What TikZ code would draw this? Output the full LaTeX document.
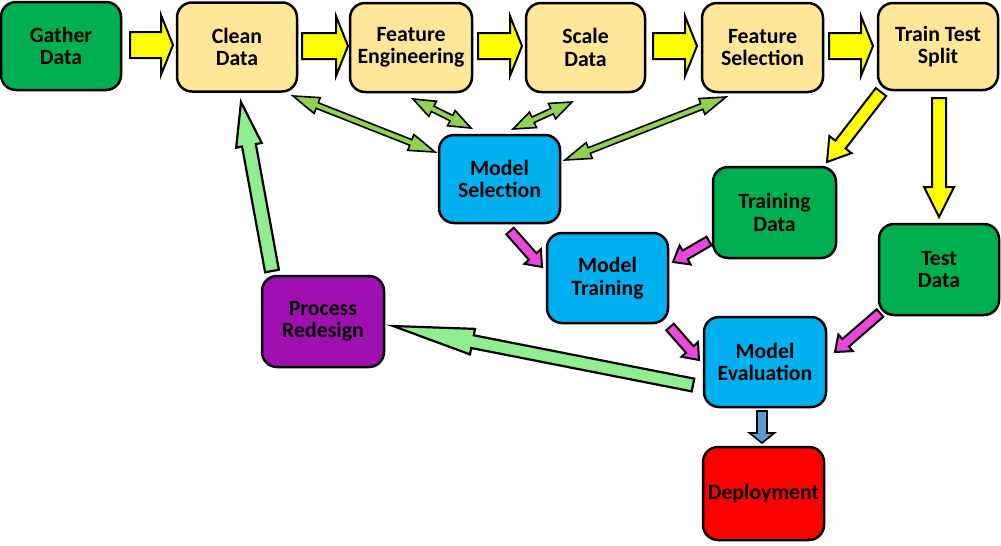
\documentclass[tikz,border=0pt]{standalone}
\usepackage{fontspec}
\setmainfont{Carlito}
\usetikzlibrary{calc}
\definecolor{cgreen}{RGB}{0,176,80}
\definecolor{corange}{RGB}{255,230,153}
\definecolor{cblue}{RGB}{0,176,240}
\definecolor{cpurple}{RGB}{160,15,175}
\definecolor{cred}{RGB}{255,0,0}
\definecolor{cyellow}{RGB}{255,255,0}
\definecolor{colive}{RGB}{146,208,80}
\definecolor{cpink}{RGB}{234,72,218}
\definecolor{clight}{RGB}{144,238,144}
\definecolor{csteel}{RGB}{91,155,213}
\newcommand\bacalc[2]{%
  \path let \p1=(#1), \p2=(#2) in \pgfextra{%
    \pgfmathsetmacro\baang{atan2(\y2-\y1,\x2-\x1)}%
    \pgfmathsetmacro\balen{veclen(\x2-\x1,\y2-\y1)}%
    \global\let\baangG\baang \global\let\balenG\balen};}
% #1 start, #2 end, #3 body half width, #4 head half width, #5 head length, #6 style
\newcommand\blockarrow[6]{%
  \bacalc{#1}{#2}%
  \draw[#6, shift={(#1)}, rotate=\baangG]
    (0pt,#3pt) -- ({\balenG pt-#5pt},#3pt) -- ({\balenG pt-#5pt},#4pt) -- (\balenG pt,0pt)
    -- ({\balenG pt-#5pt},-#4pt) -- ({\balenG pt-#5pt},-#3pt) -- (0pt,-#3pt) -- cycle;}
\newcommand\dblarrow[6]{%
  \bacalc{#1}{#2}%
  \draw[#6, shift={(#1)}, rotate=\baangG]
    (0pt,0pt) -- (#5pt,#4pt) -- (#5pt,#3pt) -- ({\balenG pt-#5pt},#3pt) -- ({\balenG pt-#5pt},#4pt) -- (\balenG pt,0pt)
    -- ({\balenG pt-#5pt},-#4pt) -- ({\balenG pt-#5pt},-#3pt) -- (#5pt,-#3pt) -- (#5pt,-#4pt) -- cycle;}
\tikzset{
  box/.style={draw=black, line width=2.5pt, rounded corners=15pt, align=center,
    font=\fontsize{21.8}{22.5}\selectfont\bfseries, inner sep=0pt},
  yarrow/.style={fill=cyellow, draw=black, line width=2pt, miter limit=20},
  garrow/.style={fill=colive, draw=black, line width=1.6pt, miter limit=20},
  parrow/.style={fill=cpink, draw=black, line width=2pt, miter limit=20},
  larrow/.style={fill=clight, draw=black, line width=2.2pt, miter limit=30},
  barrow/.style={fill=csteel, draw=black, line width=1.6pt, miter limit=20},
}
\begin{document}
\begin{tikzpicture}[x=1pt,y=-1pt]
\useasboundingbox (0,0) rectangle (1001,546);
% nodes
\node[box, fill=cgreen, minimum width=120pt, minimum height=88pt] (gather) at (61,46) {Gather\\Data};
\node[box, fill=corange, minimum width=120pt, minimum height=89pt] (clean) at (237,47) {Clean\\Data};
\node[box, fill=corange, minimum width=122pt, minimum height=89pt] (fe) at (411,47.5) {Feature\\Engineering};
\node[box, fill=corange, minimum width=119pt, minimum height=89pt] (scale) at (585.5,47.5) {Scale\\Data};
\node[box, fill=corange, minimum width=121pt, minimum height=89pt] (fs) at (762.5,47.5) {Feature\\Selection};
\node[box, fill=corange, minimum width=120pt, minimum height=87pt] (tts) at (938,46.5) {Train Test\\Split};
\node[box, fill=cblue, minimum width=121pt, minimum height=88pt] (ms) at (499.5,179) {Model\\Selection};
\node[box, fill=cblue, minimum width=121pt, minimum height=90pt] (mt) at (607.5,278) {Model\\Training};
\node[box, fill=cblue, minimum width=122pt, minimum height=90pt] (me) at (765,362) {Model\\Evaluation};
\node[box, fill=cgreen, minimum width=123pt, minimum height=91pt] (trd) at (774.5,212.5) {Training\\Data};
\node[box, fill=cgreen, minimum width=120pt, minimum height=91pt] (ted) at (939,269.5) {Test\\Data};
\node[box, fill=cpurple, minimum width=122pt, minimum height=91pt] (pr) at (323,321.5) {Process\\Redesign};
\node[box, fill=cred, minimum width=121pt, minimum height=93pt] (dep) at (763.5,493.5) {Deployment};
% arrow end points
\coordinate (y1s) at (130,45);  \coordinate (y1e) at (173,45);
\coordinate (y2s) at (302,46);  \coordinate (y2e) at (348,46);
\coordinate (y3s) at (478,46);  \coordinate (y3e) at (522,46);
\coordinate (y4s) at (653,46);  \coordinate (y4e) at (697,46);
\coordinate (y5s) at (829,46);  \coordinate (y5e) at (873,46);
\coordinate (y6s) at (881,92);  \coordinate (y6e) at (827,162);
\coordinate (y7s) at (939,98);  \coordinate (y7e) at (939,217);
\coordinate (g1s) at (293,96);  \coordinate (g1e) at (435,152);
\coordinate (g2s) at (413,99);  \coordinate (g2e) at (471,128);
\coordinate (g3s) at (572,102); \coordinate (g3e) at (513,129);
\coordinate (g4s) at (726,97);  \coordinate (g4e) at (565,160);
\coordinate (p1s) at (510,231); \coordinate (p1e) at (542,267);
\coordinate (p2s) at (709,241); \coordinate (p2e) at (673,262);
\coordinate (p3s) at (670,327); \coordinate (p3e) at (699,360);
\coordinate (p4s) at (880,313); \coordinate (p4e) at (835,352);
\coordinate (l1s) at (693,385); \coordinate (l1e) at (393,326);
\coordinate (l2s) at (272,271); \coordinate (l2e) at (241,102);
\coordinate (b1s) at (762,411); \coordinate (b1e) at (762,443);
% arrows
\blockarrow{y1s}{y1e}{13}{30}{12}{yarrow}
\blockarrow{y2s}{y2e}{13}{30}{12}{yarrow}
\blockarrow{y3s}{y3e}{13}{30}{12}{yarrow}
\blockarrow{y4s}{y4e}{13}{30}{12}{yarrow}
\blockarrow{y5s}{y5e}{13}{30}{12}{yarrow}
\blockarrow{y6s}{y6e}{6.5}{14}{22}{yarrow}
\blockarrow{y7s}{y7e}{7}{15}{30}{yarrow}
\dblarrow{g1s}{g1e}{3}{8.5}{26}{garrow}
\dblarrow{g2s}{g2e}{3}{8.5}{22}{garrow}
\dblarrow{g3s}{g3e}{3}{8.5}{22}{garrow}
\dblarrow{g4s}{g4e}{3}{8.5}{26}{garrow}
\blockarrow{p1s}{p1e}{5}{11}{14}{parrow}
\blockarrow{p2s}{p2e}{5}{11}{14}{parrow}
\blockarrow{p3s}{p3e}{5}{11}{14}{parrow}
\blockarrow{p4s}{p4e}{5}{11}{14}{parrow}
\blockarrow{l1s}{l1e}{6.5}{13}{81}{larrow}
\blockarrow{l2s}{l2e}{7}{13}{44}{larrow}
\blockarrow{b1s}{b1e}{5}{12.5}{10}{barrow}
\end{tikzpicture}
\end{document}
